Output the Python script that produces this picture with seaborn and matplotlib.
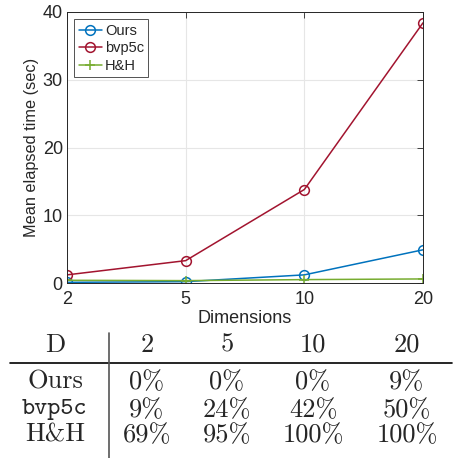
import numpy as np
import pandas as pd
import matplotlib
matplotlib.use('Agg')
import matplotlib.pyplot as plt
from matplotlib.lines import Line2D
import seaborn as sns

dims = ['2', '5', '10', '20']
ours = [0.1, 0.2, 1.2, 4.9]
bvp5c = [1.2, 3.3, 13.8, 38.4]
hh = [0.4, 0.35, 0.5, 0.6]

methods = ['Ours', 'bvp5c', 'H&H']
fail_ours = ['0%', '0%', '0%', '9%']
fail_bvp5c = ['9%', '24%', '42%', '50%']
fail_hh = ['69%', '95%', '100%', '100%']

sns.set_style('white')
plt.rcParams['font.family'] = ['Liberation Sans', 'DejaVu Sans']

df = pd.DataFrame({
    'pos': list(range(len(dims))) * 3,
    'time': ours + bvp5c + hh,
    'method': ['Ours'] * 4 + ['bvp5c'] * 4 + ['H&H'] * 4,
})

W, H = 454, 458
fig = plt.figure(figsize=(W / 100, H / 100), dpi=100)
ax = fig.add_axes([67 / W, 1 - 283 / H, (423 - 67) / W, (283 - 12) / H])

colors = {'Ours': '#0072BD', 'bvp5c': '#A2142F', 'H&H': '#77AC30'}
markers = {'Ours': 'o', 'bvp5c': 'o', 'H&H': '+'}
for m in methods:
    sub = df[df['method'] == m]
    sns.lineplot(data=sub, x='pos', y='time', ax=ax, color=colors[m],
                 marker=markers[m], markersize=7, markerfacecolor='none',
                 markeredgecolor=colors[m], markeredgewidth=1.1,
                 linewidth=1.1, label=m)

ax.set_xlim(0, 3)
ax.set_ylim(0, 40)
ax.set_xticks(range(len(dims)))
ax.set_xticklabels(dims)
ax.set_yticks([0, 10, 20, 30, 40])
ax.grid(True, color='#e6e6e6', linewidth=0.8)
ax.tick_params(direction='in', length=4, width=0.6, colors='#262626',
               labelsize=13, top=True, right=True, pad=3)
ax.tick_params(axis='x', pad=6)
for s in ax.spines.values():
    s.set_color('#262626')
    s.set_linewidth(0.7)
ax.set_xlabel('Dimensions', fontsize=13, color='#262626', labelpad=1)
ax.set_ylabel('Mean elapsed time (sec)', fontsize=11.7, color='#262626', labelpad=3)

leg = ax.legend(loc='upper left', fontsize=10.5, frameon=True, fancybox=False,
                handlelength=1.6, handletextpad=0.2, borderpad=0.3,
                labelspacing=0.25, borderaxespad=0.5)
leg.get_frame().set_edgecolor('#262626')
leg.get_frame().set_linewidth(0.7)

# table below the plot
def fx(px):
    return px / W

def fy(py):
    return 1 - py / H

col_x = [147, 227, 313, 407]
row_y = [382, 410, 435]
fs = 19
serif = ['cmr10', 'DejaVu Serif']
fig.text(fx(55), fy(345), 'D', fontsize=fs, ha='center', va='center', family=serif)
for x, d in zip(col_x, dims):
    fig.text(fx(x), fy(345), d, fontsize=fs, ha='center', va='center', family=serif)

rows = [fail_ours, fail_bvp5c, fail_hh]
for y, lab, vals in zip(row_y, methods, rows):
    if lab == 'bvp5c':
        fig.text(fx(55), fy(y), lab, fontsize=18, ha='center', va='center',
                 family=['cmtt10', 'DejaVu Sans Mono'])
    else:
        fig.text(fx(55), fy(y), lab, fontsize=fs, ha='center', va='center', family=serif)
    for x, v in zip(col_x, vals):
        fig.text(fx(x), fy(y), v, fontsize=fs, ha='center', va='center', family=serif)

fig.add_artist(Line2D([fx(10), fx(452)], [fy(363), fy(363)], color='black', linewidth=1.2))
fig.add_artist(Line2D([fx(109), fx(109)], [fy(333), fy(458)], color='#555555', linewidth=1.2))

fig.savefig('out.png', dpi=100)
